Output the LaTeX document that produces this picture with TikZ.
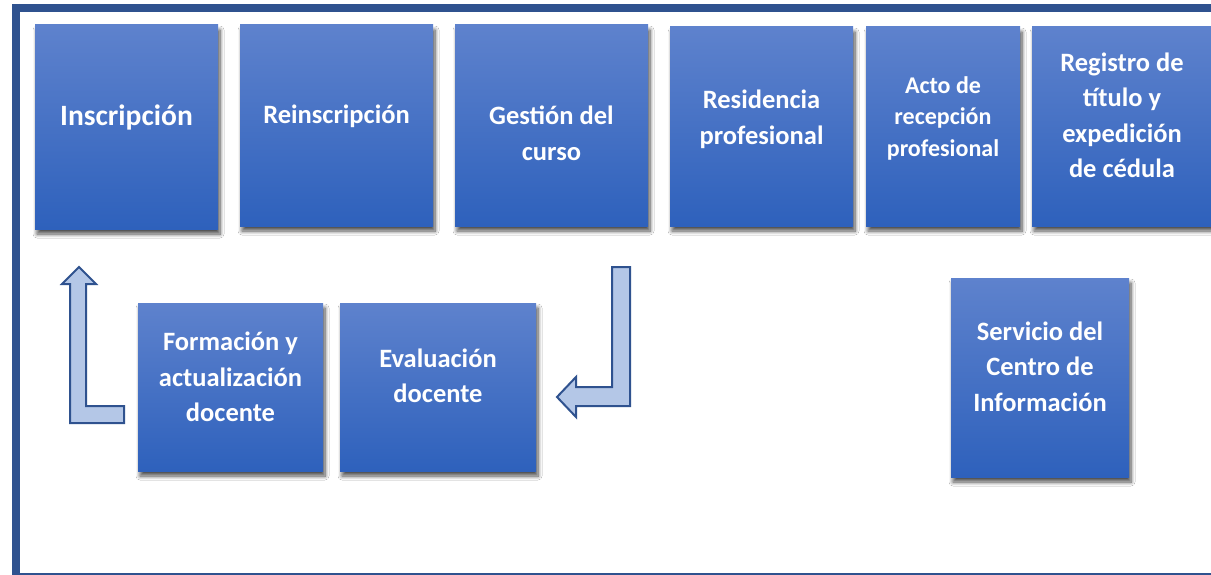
\documentclass[tikz,border=0pt]{standalone}
\usepackage{fontspec}
\setmainfont{Carlito}
\usetikzlibrary{shadows.blur}
\definecolor{boxtop}{RGB}{94,130,205}
\definecolor{boxbot}{RGB}{46,97,188}
\definecolor{frameblue}{RGB}{47,82,143}
\definecolor{arrowfill}{RGB}{180,199,231}
\tikzset{
  procbox/.style={rectangle, top color=boxtop, bottom color=boxbot, draw=none, inner sep=0pt,
    blur shadow={shadow xshift=2pt, shadow yshift=-5pt, shadow blur steps=8, shadow blur radius=4pt, shadow opacity=70}},
  boxtext/.style={text=white, align=center, inner sep=0pt,
    font=\fontsize{26.5}{35.5}\selectfont\bfseries},
  bigtext/.style={boxtext, font=\fontsize{29.5}{36}\selectfont\bfseries},
  smalltext/.style={boxtext, font=\fontsize{24}{31.5}\selectfont\bfseries},
  blockarrow/.style={fill=arrowfill, draw=frameblue, line width=2pt, line join=miter}
}
\begin{document}
\begin{tikzpicture}[x=1pt,y=-1pt]
\useasboundingbox (0,0) rectangle (1211,575);
\fill[white] (0,0) rectangle (1211,575);
% frame
\draw[frameblue, line width=8pt] (16,8) -- (1230,8);
\draw[frameblue, line width=8pt] (16,4) -- (16,577);
\draw[frameblue, line width=2pt] (12,574) -- (1230,574);
% top row boxes
\node[procbox, minimum width=183pt, minimum height=204pt] (insc) at (126.5,127) {};
\node[procbox, minimum width=193pt, minimum height=201pt] (reinsc) at (336.5,125.5) {};
\node[procbox, minimum width=193pt, minimum height=201pt] (gest) at (551.5,125.5) {};
\node[procbox, minimum width=183pt, minimum height=199pt] (resid) at (761.5,126.5) {};
\node[procbox, minimum width=154pt, minimum height=199pt] (acto) at (943,126.5) {};
\node[procbox, minimum width=180pt, minimum height=199pt] (regis) at (1122,126.5) {};
% lower row boxes
\node[procbox, minimum width=185pt, minimum height=168pt] (form) at (230.5,387) {};
\node[procbox, minimum width=196pt, minimum height=168pt] (eval) at (438,387) {};
\node[procbox, minimum width=178pt, minimum height=199pt] (serv) at (1040,377.5) {};
% texts
\node[bigtext, yshift=10pt] (inscT) at (insc.center) {Inscripción};
\node[boxtext, yshift=9pt] (reinscT) at (reinsc.center) {Reinscripción};
\node[boxtext, yshift=-8pt] (gestT) at (gest.center) {Gestión del\\curso};
\node[boxtext, yshift=7pt] (residT) at (resid.center) {Residencia\\profesional};
\node[smalltext, yshift=8.5pt] (actoT) at (acto.center) {Acto de\\recepción\\profesional};
\node[boxtext, yshift=11pt] (regisT) at (regis.center) {Registro de\\título y\\expedición\\de cédula};
\node[boxtext, yshift=10pt] (formT) at (form.center) {Formación y\\actualización\\docente};
\node[boxtext, yshift=11pt] (evalT) at (eval.center) {Evaluación\\docente};
\node[boxtext, yshift=11pt] (servT) at (serv.center) {Servicio del\\Centro de\\Información};
% block arrows
\draw[blockarrow] (79,267) -- (96,284) -- (86,284) -- (86,406) -- (124,406) -- (124,423) -- (70,423) -- (70,284) -- (62,284) -- cycle;
\draw[blockarrow] (612,267) -- (630,267) -- (630,406) -- (576,406) -- (576,417) -- (557,397) -- (576,377) -- (576,387) -- (612,387) -- cycle;
\end{tikzpicture}
\end{document}
